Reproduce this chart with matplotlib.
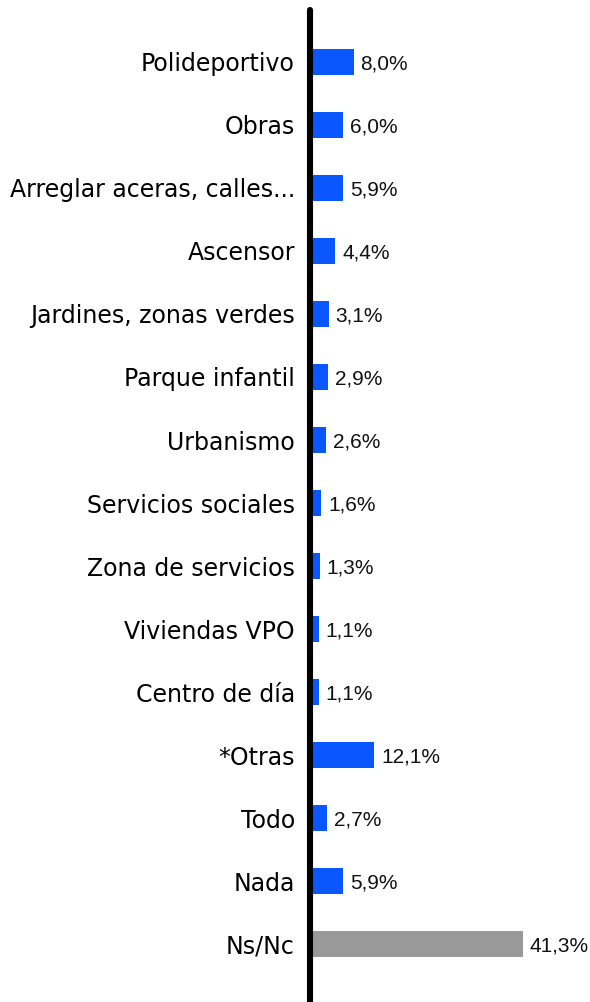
import matplotlib
matplotlib.use("Agg")
import matplotlib.pyplot as plt
from matplotlib.lines import Line2D

# ── Data ──────────────────────────────────────────────────────────────────────
CATEGORIES = ['Polideportivo', 'Obras', 'Arreglar aceras, calles...', 'Ascensor',
              'Jardines, zonas verdes', 'Parque infantil', 'Urbanismo',
              'Servicios sociales', 'Zona de servicios', 'Viviendas VPO',
              'Centro de día', '*Otras', 'Todo', 'Nada', 'Ns/Nc']
VALUES = [8.0, 6.0, 5.9, 4.4, 3.1, 2.9, 2.6, 1.6, 1.3, 1.1, 1.1, 12.1, 2.7, 5.9, 41.3]

BLUE = '#0A57FF'
GRAY = '#999999'
colors = [BLUE] * (len(VALUES) - 1) + [GRAY]

W, H, DPI = 590, 1002, 100
fig = plt.figure(figsize=(W / DPI, H / DPI), dpi=DPI)

# axes: zero of the bars at x=313 px, spans y 10..1002 px
x0 = 313
ax = fig.add_axes([x0 / W, 0, (W - x0) / W, (H - 10) / H])
ax.set_xlim(0, (W - x0) / 5.08)
ax.set_ylim(14.92, -0.825)

pos = list(range(len(VALUES)))
ax.barh(pos, VALUES, height=0.41, color=colors, zorder=2)

for p, v in zip(pos, VALUES):
    ax.annotate(f'{v:.1f}%'.replace('.', ','), xy=(v, p), xytext=(5, -1.5),
                textcoords='offset points', ha='left', va='center',
                fontsize=15, family='Liberation Sans', color='#111111')

ax.set_yticks(pos)
ax.set_yticklabels(CATEGORIES, fontsize=17, family='DejaVu Sans', color='black')
for t in ax.get_yticklabels():
    t.set_va('center_baseline')
ax.tick_params(axis='y', length=0, pad=13)
ax.set_xticks([])
for s in ax.spines.values():
    s.set_visible(False)

# thick black vertical axis line
fig.add_artist(Line2D([310 / W, 310 / W], [0, (H - 10) / H], color='black',
                      lw=4.4, solid_capstyle='round', transform=fig.transFigure))

fig.savefig('out.png', dpi=DPI)
